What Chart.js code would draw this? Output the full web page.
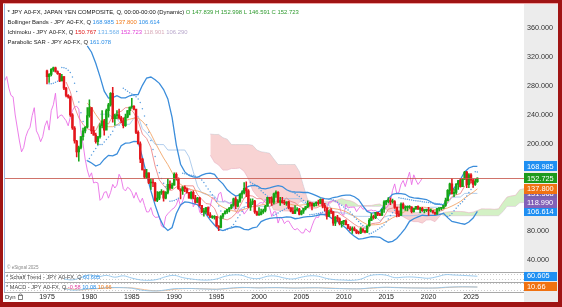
<!DOCTYPE html>
<html><head><meta charset="utf-8">
<script src="https://cdn.jsdelivr.net/npm/chart.js@4"></script>
<style>html,body{margin:0;padding:0;background:#fff;overflow:hidden}canvas{display:block}</style>
</head><body>
<canvas id="c" width="562" height="307"></canvas>
<script>
// ---------- DATA ----------
const firstYear = 1975;           // first quarter = 1975 Q1
const firstOpen = 300.9;
const closes = [
293,296,303,305, 300,297,287,293, 277,267,265,240, 222,204,189,195, 210,218,223,239,
250,218,212,203, 210,225,232,219, 246,254,270,235, 239,240,236,232, 225,237,246,251,
252,248,216,200, 179,164,154,160, 146,147,146,122, 125,133,134,125, 133,144,139,143,
158,152,138,135, 140,138,133,125, 133,125,119,125, 115,106,106,112, 102,98.5,98.6,99.7,
86.5,84.6,99.7,103.5, 106.5,109.7,111.5,115.8, 124,114,121,130.5, 132.5,138.5,135,113, 119,121,106,102,
102.5,106,108,114, 126,124.5,119.5,131, 133,119.5,121.7,118.7, 118,119.8,111.5,107, 104,108.7,110,103,
107,110.9,113.3,117.8, 117.6,114.4,117.9,119, 117.8,123.3,114.8,111.7, 99.7,106.2,106,90.6, 98.9,96.3,89.8,93,
93.4,88.4,83.5,81.1, 83.1,80.5,77,76.9, 82.8,79.8,77.9,86.7, 94.2,99.1,98.2,105.3, 103,101.3,109.7,119.8,
120.1,122.5,119.9,120.2, 112.6,103.2,101.3,116.9, 111.4,112.4,112.5,112.7, 106.3,110.8,113.7,109.7, 110.9,107.8,108.1,108.6,
107.5,107.9,105.5,103.2, 110.7,111.1,111.3,115.1, 121.7,135.7,144.7,131.1, 133.1,144.3,149.4,141, 151.3,160.9,143.6,157.2,
149.9,144,147.839,152.723];
const highs = [
302,297,304,306, 306,301,297,296, 293,278,268,266, 242,224,205,197, 210,222,224,250,
261,250,224,215, 210,228,246,234, 248,256,271,278, 241,246,248,238, 236,241,246,251,
263,253,244,218, 203,180,164,165, 160,151,151,147, 134,134,137,135, 134,152,149,146,
160,160,153,138, 141,142,139,133, 134,135,129,126, 126,115,111,112, 113,105,101,101,
100,87,101,104, 108,110,112,116, 125,127,123,131, 135,146.5,147.6,137, 124,124,122,107,
112,110,110,115, 126,126,127,132, 135,134,126,126, 122,120,121,112, 112,114.9,112,111,
108,111,113.5,121.4, 119.5,119,118.3,119.9, 122.2,124.1,123.7,117.9, 111.8,108.6,110.7,106.3, 99.7,101.4,97.8,93.1,
93.8,94.9,88.9,85.9, 85.5,85.5,81.5,79.5, 84.2,82.1,80.2,86.8, 96.7,103.7,101.6,105.4, 105.4,104.1,110.1,121.8,
122,125.9,125.3,123.8, 121.7,111.9,107.5,118.7, 118.6,114.4,114.5,114.7, 113.4,111.4,113.8,114.5, 112.2,112.4,109,109.7,
112.2,109.9,107.5,106.1, 111,111.1,112.1,115.5, 125.1,137,145.9,151.9, 137.9,145.1,149.7,151.9, 152,161.9,162,158.9,
158.9,151.2,150.9,152.998];
const lows = [
283,285,294,300, 299,296,286,287, 275,265,263,238, 220,201,182,176, 193,205,215,222,
237,214,212,201, 199,208,222,212, 220,237,252,230, 226,235,234,229, 222,224,236,240,
249,247,214,200, 174,164,152,152, 145,137,141,121, 120,123,130,121, 124,131,137,138,
143,150,137,124, 130,134,132,125, 124,124,118,119, 114,105,100,104, 101,98.5,97,96,
86,80,84,97, 103,104,106,110, 114,110,113,119, 125,131,127,112, 108,116,104,101,
101,102,104,106, 114,118,115,117, 126,119,115,118, 116,115,110,106, 103.5,103.4,107,101.8,
101.7,104,108.7,112, 113.5,108.9,113.5,114.4, 115.2,117.6,111.6,107.2, 95.8,99.7,103.5,87.2, 87.1,92.9,88.2,84.8,
88.1,88.1,82.9,80.2, 76.3,79.6,75.9,75.6, 76,77.7,77.1,77.4, 86.5,93.8,95.8,96.6, 100.8,100.8,101.1,105.2,
115.9,118.3,116.1,118.1, 110.9,99,99.5,101.2, 110.1,108.1,107.3,110.8, 104.6,105.6,109.8,109.7, 104.9,106.8,104.5,106.5,
101.2,105.9,104.2,102.6, 102.6,107.5,108.7,110.8, 113.5,121.3,130.4,130.6, 127.2,130.6,137.2,140.3, 140.8,150.8,139.6,139.6,
146.5,139.9,142.7,146.591];

// Bollinger Bands (20,2) read every half-year from 1979.75
const bbStartX = 1979.75;
const bbMid = [256.2,250.1,240.5,232.4,225.9,223.7,223.7,226.4,230.6,232.3,234.0,235.6,235.7,231.1,224.2,213.9,202.0,191.0,180.5,171.3,160.5,151.0,143.9,140.6,137.8,136.1,134.9,133.0,131.0,127.1,122.9,116.0,112.5,109.4,107.9,106.9,107.3,109.8,111.3,113.2,113.7,115.6,116.5,118.2,119.4,120.1,119.6,117.9,116.4,115.1,115.3,115.8,116.2,115.3,114.6,114.1,113.4,111.8,110.7,109.8,108.3,106.5,103.2,99.8,95.6,91.7,88.6,88.0,88.3,88.8,91.1,94.1,97.9,100.5,103.7,106.8,109.8,111.0,112.0,112.7,112.1,110.7,109.2,109.5,109.9,111.5,114.1,117.1,120.4,125.1,129.3,133.2,137.8];
const bbUpper = [335.4,326.6,311.5,292.9,272.9,263.3,264.0,266.6,263.7,263.6,266.5,267.9,268.1,280.9,291.0,292.4,288.6,283.6,275.0,262.2,236.6,198.3,171.9,161.3,156.4,154.5,153.8,156.9,158.8,159.7,157.9,150.3,144.8,136.5,131.8,127.9,129.6,137.7,141.3,142.7,142.4,138.5,137.9,139.3,140.9,142.2,141.1,136.6,134.0,133.5,133.3,132.8,132.9,130.9,128.5,125.7,124.3,123.8,125.9,126.8,128.4,129.2,129.1,127.0,122.8,114.2,106.6,104.3,105.0,106.7,115.1,124.2,130.4,131.7,131.4,130.3,126.6,125.4,124.9,124.0,123.1,120.1,116.9,116.6,115.7,125.0,135.3,142.7,150.8,161.2,166.7,168.9,169.0];
const bbLower = [176.9,173.6,169.4,171.8,178.9,184.1,183.4,186.1,197.4,200.9,201.5,203.3,203.2,181.2,157.4,135.3,115.4,98.3,86.0,80.3,84.4,103.7,115.7,119.9,119.2,117.6,115.9,109.1,103.1,94.6,88.0,81.7,80.2,82.4,84.0,85.8,84.9,81.8,81.3,83.8,85.1,92.6,95.2,97.1,97.9,98.1,98.0,99.2,98.9,96.6,97.4,98.8,99.6,99.7,100.8,102.4,102.5,99.8,95.5,92.9,88.2,83.8,77.3,72.5,68.4,69.1,70.5,71.7,71.6,70.9,67.1,64.1,65.4,69.3,76.1,83.3,93.0,96.6,99.1,101.4,101.0,101.3,101.4,102.3,104.1,98.1,92.8,91.5,90.1,89.0,92.0,97.6,106.6];

// Ichimoku (half-year readings)
const tenkanStartX = 1977.25;
const tenkan = [285.5,272,251,236,227,221,218.5,218.5,230,230,227.5,238.5,243,245,250,250,242.5,231.5,213.5,207.5,195,169.5,150,142.5,136,136,140.5,140.5,142,142,142,130,123.5,117.5,116.75,111,97.5,96.5,95,98,103.5,114,125.25,128.8,127.8,124.3,124.3,119,113.5,116.5,118.5,120.5,125,120.5,118.7,113.9,111.35,111.55,111.55,111.55,114.05,115.65,109.95,105.65,105.6,101.35,97.75,93.25,88.85,85.25,85.25,81.2,89.65,90.5,91.25,99.6,109.85,111.25,112.45,112.45,112.45,111.4,108.85,109.95,109.65,109.6,107.85,107.85,106.8,108.35,119.8,127.25,129.7,131.35,141.6,144.6,146.3,150.8];
const kijunStartX = 1981.25;
const kijun = [241,241,241,236.5,234.5,227,227,227,235.5,238.5,221,215,207.5,199.5,199,199,191.5,191.5,191.5,191.5,191.5,182,161.5,141.5,132.5,130,129.25,128,120,120,120,116.5,111,109.5,113.25,113.8,113.8,113.8,113.8,113.8,113.8,115.8,124.3,124.3,124.3,124.3,124.3,124.3,118,118,118,118.35,118.35,118.35,115.4,106.6,105.6,104.45,104.45,102.15,100.2,99.85,99.85,99.85,99.85,99.65,93.7,98.7,100.75,100.75,100.75,100.75,100.75,100.75,100.95,101.5,106.2,110.85,112.45,112.45,112.45,112.15,118,125.7,126.55,126.55,131.55,131.6,131.6,131.6];
const cloudStartX = 1994.25;   // spans plotted 26 quarters ahead
const spanA = [184.5,174.5,170.75,163.75,163.75,166,166,166.75,162,151.75,135.75,128,123.75,123,119.5,108.75,108.25,107.5,107.25,107.25,111.75,119.25,121.3,120.8,119.05,119.05,116.4,113.65,116.15,121.4,122.4,124.65,122.4,121.5,119.1,114.7,114.8,114.8,114.95,116.2,117,112.7,106.1,105.6,102.9,101.1,97.7,94.5,92.55,92.55,90.5,94.75,95.1,92.5,99.15,105.3,106,106.6,106.6,106.6,106.1,104.9,105.7,107.9,110.2,110.15,110.15,109.6,110.25,118.9,126.5,128.1,128.95,136.6,138.1];
const spanB = [213.5,213,213,208.5,206.5,199,199,199,199,199,198,191.5,189,188.25,187,179,171.5,171.5,171.5,171.5,171.5,162,141.5,122.5,120,120,120,120,120,120,120,116.5,113.8,113.8,113.8,113.8,113.8,113.8,113.8,113.8,113.8,115.8,117.4,117.35,116.2,116.2,113.9,111.95,105.3,105.3,105.3,105.3,105.3,105.3,105.3,100.8,100.75,100.75,100.75,100.75,100.75,100.75,100.75,100.75,100.75,100.75,100.75,100.75,100.75,106.3,113.75,113.75,113.75,118.75,119];
const chikouShiftYears = 6.5;  // 26 quarters back

// Parabolic SAR, one reading per quarter from 1975 Q2
const sarStartX = 1975.25;
const sar = [
283,283,283.8,285.2,286.4,287.6,305.6,305.2,304.0,301.7,
298.6,292.5,283.8,272.2,257.8,243.1,231.0,222,177.0,179.9,
184.8,189.4,193.7,197.7,199,199,202.7,206.2,209.5,212.6,
217.3,223.4,226,226,231.2,277.0,274.8,272.7,270.7,268.8,
266.9,265.1,262.0,257.0,248.7,238.5,226.4,216.0,204.6,192.4,
182.4,170.1,160.1,152.1,145.7,140.6,136.5,120.6,121.2,121.8,
123.3,124.8,126.2,159.3,158.6,157.9,157.2,156.5,155.9,155.3,
153.8,152.4,150.1,146.5,141.9,137.7,133.9,129.7,125.1,120.4,
114.2,107.4,101.9,80.5,81.6,83.3,85.6,88.6,93.0,97.8,
101.9,106.6,111.7,118.7,124.5,146.9,145.3,143.8,141.4,138.2,
135.2,132.5,130.0,127.7,126,126,101.5,102.7,104.6,106.4,
108.1,109.7,111.2,112.6,134.5,133.4,131.6,129.3,127.2,124.7,
121.9,119.5,117.4,102.1,102.5,102.9,103.3,103.7,104.4,105.6,
106.7,107.2,123.5,122.9,122.4,121.0,119.0,117.1,115.3,112.9,
110.6,108.5,105.9,102.8,99.1,95.9,92.7,89.6,87.1,85.0,
83.3,75.8,76.6,78.2,79.7,81.8,83.7,85.4,87.9,92.0,
96.2,101.0,105.0,108.3,110.9,125.4,124.9,124.4,123.9,123.4,
122.9,122.4,121.9,121.4,121.0,120.6,120.2,119.8,119.4,119.0,
118.6,118.2,117.8,117.4,117.0,116.6,116.3,115.9,99.5,101.0,
103.7,107.6,111.1,114.4,117.4,120.2,123.4,128.0,132.8,136.9,
140.4,161.6,161.1];

// lower panels (yearly readings)
const panelYears = [1977,1978,1979,1980,1981,1982,1983,1984,1985,1986,1987,1988,1989,1990,1991,1992,1993,1994,1995,1996,1997,1998,1999,2000,2001,2002,2003,2004,2005,2006,2007,2008,2009,2010,2011,2012,2013,2014,2015,2016,2017,2018,2019,2020,2021,2022,2023,2024,2025.75];
const schaff = [30,20,45,75,55,70,50,65,40,20,15,25,55,70,45,30,20,18,30,60,75,70,40,35,60,62,40,30,50,65,60,35,22,18,15,28,65,78,72,45,50,52,45,38,55,78,74,70,60.6];
const macd = [-5,-25,-20,-8,-5,3,5,3,-3,-22,-32,-33,-22,-8,-6,-6,-10,-13,-15,-7,1,6,3,0,3,4,1,-2,0,2,2,-3,-6,-8,-10,-9,-1,5,8,4,2,0,-1,-1.5,0.5,8,11,13,10.08];
const signal = [-2,-15,-22,-14,-7,-1,3,4,1,-12,-26,-32,-28,-15,-8,-6,-8,-11,-14,-10,-3,3,5,2,2,3,3,0,-1,1,2,0,-4,-7,-9,-9,-5,2,6,6,3,1,0,-1,-0.5,4,9,12,10.66];

const xTickYears = [1975,1980,1985,1990,1995,2000,2005,2010,2015,2020,2025];
const yTickValues = [40,80,200,240,280,320,360];
const flags = [
  {v:131.568, t:'131.568', c:'#7a62b0'},
  {v:106.614, t:'106.614', c:'#1f8ff2'},
  {v:118.990, t:'118.990', c:'#8361b8'},
  {v:137.800, t:'137.800', c:'#f07212'},
  {v:152.725, t:'152.725', c:'#1c9a1c'},
  {v:168.985, t:'168.985', c:'#1f8ff2'}
];

// ---------- BUILD ----------
const FONT = '"Liberation Sans", Arial, sans-serif';
const qx = i => firstYear + i / 4;
const opens = closes.map((c, i) => i === 0 ? firstOpen : closes[i - 1]);
const UP = '#15a515', DN = '#e3161c';
const candleColors = closes.map((c, i) => c >= opens[i] ? UP : DN);
const seq = (start, step, vals) => vals.map((v, i) => ({x: start + i * step, y: v}));
const lineDs = (data, color, w, extra) => Object.assign({type:'line', data, borderColor:color, borderWidth:w, pointRadius:0, fill:false, tension:0, yAxisID:'y'}, extra||{});

const datasets = [
  {type:'bar', data: closes.map((c,i)=>({x:qx(i), y:[opens[i], c]})), backgroundColor:candleColors, barThickness:1.8, grouped:false, minBarLength:1, yAxisID:'y'},
  {type:'bar', data: closes.map((c,i)=>({x:qx(i), y:[lows[i], highs[i]]})), backgroundColor:candleColors, barThickness:0.9, grouped:false, yAxisID:'y'},
  {type:'line', data: seq(sarStartX, 0.25, sar), showLine:false, pointRadius:0.75, pointBorderWidth:0, pointBackgroundColor:'#5c9fe0', yAxisID:'y'},
  lineDs(seq(bbStartX, 0.5, bbUpper), '#3b8ddb', 1.3),
  lineDs(seq(bbStartX, 0.5, bbLower), '#3b8ddb', 1.3),
  lineDs(seq(bbStartX, 0.5, bbMid), '#f2a66a', 0.9),
  lineDs(seq(tenkanStartX, 0.5, tenkan), '#ec7a7a', 0.8),
  lineDs(seq(kijunStartX, 0.5, kijun), '#9cc0e8', 0.8),
  lineDs(closes.map((c,i)=>({x:qx(i)-chikouShiftYears, y:c})), '#ea6fe6', 0.9),
  lineDs(seq(cloudStartX, 0.5, spanA), 'rgba(230,170,190,0.9)', 0.6, {fill:{target:'+1', above:'rgba(196,236,178,0.75)', below:'rgba(244,182,182,0.6)'}}),
  lineDs(seq(cloudStartX, 0.5, spanB), 'rgba(200,185,215,0.9)', 0.6),
  {type:'line', data: panelYears.map((y,i)=>({x:y, y:schaff[i]})), borderColor:'#8fc3ea', borderWidth:0.9, pointRadius:0, tension:0.4, yAxisID:'ySch'},
  {type:'line', data: panelYears.map((y,i)=>({x:y, y:macd[i]})), borderColor:'#8fc3ea', borderWidth:0.9, pointRadius:0, tension:0.3, yAxisID:'yMacd'},
  {type:'line', data: panelYears.map((y,i)=>({x:y, y:signal[i]})), borderColor:'#f4b98a', borderWidth:0.9, pointRadius:0, tension:0.3, yAxisID:'yMacd'}
];

function drawSegments(ctx, x, y, segs, size) {
  ctx.font = size + 'px ' + FONT;
  ctx.textBaseline = 'middle'; ctx.textAlign = 'left';
  for (const [t, col] of segs) { ctx.fillStyle = col; ctx.fillText(t, x, y); x += ctx.measureText(t).width; }
}

const frame = {
  id:'frame',
  beforeDraw(chart) {
    const ctx = chart.ctx;
    ctx.save();
    ctx.fillStyle = '#fff'; ctx.fillRect(0,0,562,307);
    ctx.fillStyle = '#ececec'; ctx.fillRect(524,4,34,298);
    ctx.restore();
  },
  afterDatasetsDraw(chart) {
    const ctx = chart.ctx, y = chart.scales.y, x = chart.scales.x;
    ctx.save();
    const py = Math.round(y.getPixelForValue(closes[closes.length-1])) + 0.5;
    ctx.strokeStyle = 'rgba(200,90,80,0.85)'; ctx.lineWidth = 1;
    ctx.beginPath(); ctx.moveTo(x.left, py); ctx.lineTo(x.right, py); ctx.stroke();
    ctx.strokeStyle = '#a9a9a9';
    for (const id of ['y','ySch','yMacd']) {
      const b = Math.round(chart.scales[id].bottom) + 0.5;
      ctx.beginPath(); ctx.moveTo(x.left, b); ctx.lineTo(524, b); ctx.stroke();
    }
    ctx.restore();
  },
  afterDraw(chart) {
    const ctx = chart.ctx, ys = chart.scales.y;
    ctx.save();
    drawSegments(ctx, 7.5, 12.5, [['* JPY A0-FX, JAPAN YEN COMPOSITE, Q, 00:00-00:00 (Dynamic) ', '#111'], ['O 147.839 H 152.998 L 146.591 C 152.723', '#2f9a2f']], 5.9);
    drawSegments(ctx, 7.5, 22.8, [['Bollinger Bands - JPY A0-FX, Q ', '#222'], ['168.985 ', '#2a8ee8'], ['137.800 ', '#f07a1a'], ['106.614', '#2a8ee8']], 5.9);
    drawSegments(ctx, 7.5, 32.6, [['Ichimoku - JPY A0-FX, Q ', '#222'], ['150.767 ', '#e01818'], ['131.568 ', '#6aaeea'], ['152.723 ', '#e040d8'], ['118.901 ', '#d8aab8'], ['106.290', '#b8a8cc']], 5.9);
    drawSegments(ctx, 7.5, 42.3, [['Parabolic SAR - JPY A0-FX, Q ', '#222'], ['161.078', '#2a8ee8']], 5.9);
    drawSegments(ctx, 7, 267.5, [['\u00A9 eSignal 2025', '#8a8a8a']], 4.6);
    drawSegments(ctx, 6, 277.5, [['* Schaff Trend - JPY A0-FX, Q ', '#444'], ['60.605', '#2a8ee8']], 5.6);
    drawSegments(ctx, 6, 287.5, [['* MACD - JPY A0-FX, Q ', '#444'], ['-0.58 ', '#e040a0'], ['10.08 ', '#2a8ee8'], ['10.66', '#f07a1a']], 5.6);
    drawSegments(ctx, 5, 297.5, [['Dyn', '#333']], 6);
    ctx.strokeStyle = '#666'; ctx.lineWidth = 0.8;
    ctx.strokeRect(18.5, 295.5, 4, 4);
    ctx.beginPath(); ctx.arc(20.5, 295.5, 1.6, Math.PI, 0); ctx.stroke();
    ctx.font = '7.4px ' + FONT; ctx.textBaseline = 'middle'; ctx.textAlign = 'left';
    for (const f of flags) {
      const fy = ys.getPixelForValue(f.v);
      ctx.fillStyle = f.c; ctx.fillRect(524, Math.round(fy - 5), 33, 10);
      ctx.fillStyle = '#fff'; ctx.fillText(f.t, 527, fy + 0.5);
    }
    const sy = chart.scales.ySch.getPixelForValue(60.605);
    ctx.fillStyle = '#1f8ff2'; ctx.fillRect(524, Math.round(sy - 4.5), 33, 9);
    ctx.fillStyle = '#fff'; ctx.fillText('60.605', 527, sy);
    const my = chart.scales.yMacd.getPixelForValue(10.66);
    ctx.fillStyle = '#f07212'; ctx.fillRect(524, Math.round(my - 4.5), 33, 9);
    ctx.fillStyle = '#fff'; ctx.fillText('10.66', 527, my);
    ctx.fillStyle = '#a01414';
    ctx.fillRect(0,0,562,3); ctx.fillRect(0,0,3,307); ctx.fillRect(558,0,4,307); ctx.fillRect(0,302,562,5);
    ctx.fillStyle = '#f0a8a8'; ctx.fillRect(3,3,555,1);
    ctx.fillStyle = '#9fb6de'; ctx.fillRect(4,4,1,288);
    ctx.restore();
  }
};

new Chart(document.getElementById('c'), {
  type:'bar',
  data:{datasets},
  options:{
    responsive:false, animation:false, devicePixelRatio:1,
    layout:{padding:{left:4, right:4, top:4, bottom:5}},
    plugins:{legend:{display:false}, tooltip:{enabled:false}},
    scales:{
      x:{type:'linear', position:'bottom', min:1975-43/8.48, max:1975+477/8.48, offset:false,
         grid:{display:false, drawTicks:false, offset:false}, border:{display:false},
         afterBuildTicks:s=>{ s.ticks = xTickYears.map(v=>({value:v})); },
         afterFit:s=>{ s.height = 10; },
         ticks:{font:{size:7, family:FONT}, color:'#222', padding:1, maxRotation:0, autoSkip:false, callback:v=>String(v)}},
      y:{type:'linear', position:'right', stack:'p', stackWeight:268, min:22.66, max:388.68,
         grid:{display:false, drawTicks:false}, border:{display:false},
         afterBuildTicks:s=>{ s.ticks = yTickValues.map(v=>({value:v})); },
         afterFit:s=>{ s.width = 34; },
         ticks:{font:{size:7.2, family:FONT}, color:'#333', padding:3, callback:v=>Number(v).toFixed(3)}},
      ySch:{type:'linear', position:'right', stack:'p', stackWeight:10, min:-5, max:105,
         grid:{display:true, drawTicks:false, color:'#b8b8b8', lineWidth:0.7}, border:{display:false, dash:[1,2]},
         afterBuildTicks:s=>{ s.ticks = [{value:20},{value:80}]; },
         afterFit:s=>{ s.width = 34; }, ticks:{display:false}},
      yMacd:{type:'linear', position:'right', stack:'p', stackWeight:10, min:-45, max:65,
         grid:{display:true, drawTicks:false, color:'#b8b8b8', lineWidth:0.7}, border:{display:false, dash:[1,2]},
         afterBuildTicks:s=>{ s.ticks = [{value:-25},{value:45}]; },
         afterFit:s=>{ s.width = 34; }, ticks:{display:false}}
    }
  },
  plugins:[frame]
});
</script>
</body></html>
